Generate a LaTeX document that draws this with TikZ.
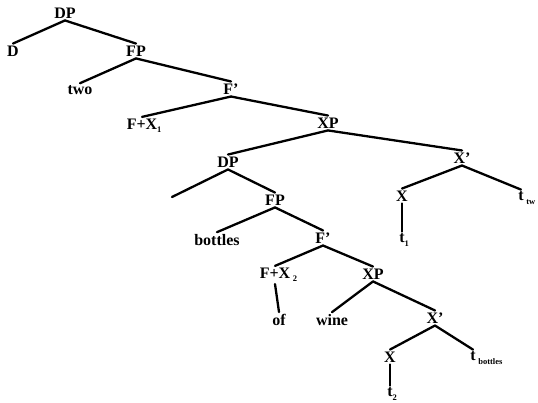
\documentclass[tikz,border=0pt]{standalone}
\usepackage{fontspec}
\setmainfont{Liberation Serif}
% lowered small index after a label
\newcommand\lowidx[1]{\raisebox{-0.45ex}{\fontsize{8.5}{8.5}\selectfont #1}}
\begin{document}
\begin{tikzpicture}[x=1pt,y=-1pt,
  lbl/.style={inner sep=2pt,font=\fontsize{16}{16}\selectfont\bfseries},
  branch/.style={line width=2.3pt,line cap=round}]
\useasboundingbox (0,0) rectangle (538,403);

% upper DP
\node[lbl] (dp1) at (65,13) {DP};
\node[lbl] (d) at (13,51) {D};
\node[lbl] (fp1) at (136,51) {FP};
\node[lbl] (two) at (80,90) {two};
\node[lbl] (fb1) at (231,89) {F'};
\node[lbl] (fx1) at (142,126) {F+X\rlap{\lowidx{1}}};
\node[lbl] (xp1) at (328,123) {XP};
\node[lbl] (xb1) at (462,158) {X'};
\node[lbl] (x1) at (402,196) {X};
\node[lbl] (ttwo) at (521,198) {t\rlap{\,\lowidx{tw}}};
\node[lbl] (t1) at (402,240) {t\rlap{\lowidx{1}}};

% lower DP
\node[lbl] (dp2) at (228,162) {DP};
\coordinate (spec) at (172,197);
\node[lbl] (fp2) at (275,200) {FP};
\node[lbl] (bottles) at (217,240) {bottles};
\node[lbl] (fb2) at (323,238) {F'};
\node[lbl] (fx2) at (275,275) {F+X\rlap{\,\lowidx{2}}};
\node[lbl] (of) at (279,320) {of};
\node[lbl] (xp2) at (373,274) {XP};
\node[lbl] (wine) at (332,320) {wine};
\node[lbl] (xb2) at (435,318) {X'};
\node[lbl] (x2) at (390,357) {X};
\node[lbl] (tbot) at (473,358) {t\rlap{\,\lowidx{bottles}}};
\node[lbl] (t2) at (390,394) {t\rlap{\lowidx{2}}};

% branches
\draw[branch] (dp1.south) -- (d.north);
\draw[branch] (dp1.south) -- (fp1.north);
\draw[branch] (fp1.south) -- (two.north);
\draw[branch] (fp1.south) -- (fb1.north);
\draw[branch] (fb1.south) -- (fx1.north);
\draw[branch] (fb1.south) -- (xp1.north);
\draw[branch] (xp1.south) -- (dp2.north);
\draw[branch] (xp1.south) -- (xb1.north);
\draw[branch] (xb1.south) -- (x1.north);
\draw[branch] (xb1.south) -- (ttwo.north);
\draw[branch] (x1.south) -- (t1.north);

\draw[branch] (dp2.south) -- (spec);
\draw[branch] (dp2.south) -- (fp2.north);
\draw[branch] (fp2.south) -- (bottles.north);
\draw[branch] (fp2.south) -- (fb2.north);
\draw[branch] (fb2.south) -- (fx2.north);
\draw[branch] (fb2.south) -- (xp2.north);
\draw[branch] (fx2.south) -- (of.north);
\draw[branch] (xp2.south) -- (wine.north);
\draw[branch] (xp2.south) -- (xb2.north);
\draw[branch] (xb2.south) -- (x2.north);
\draw[branch] (xb2.south) -- (tbot.north);
\draw[branch] (x2.south) -- (t2.north);
\end{tikzpicture}
\end{document}
